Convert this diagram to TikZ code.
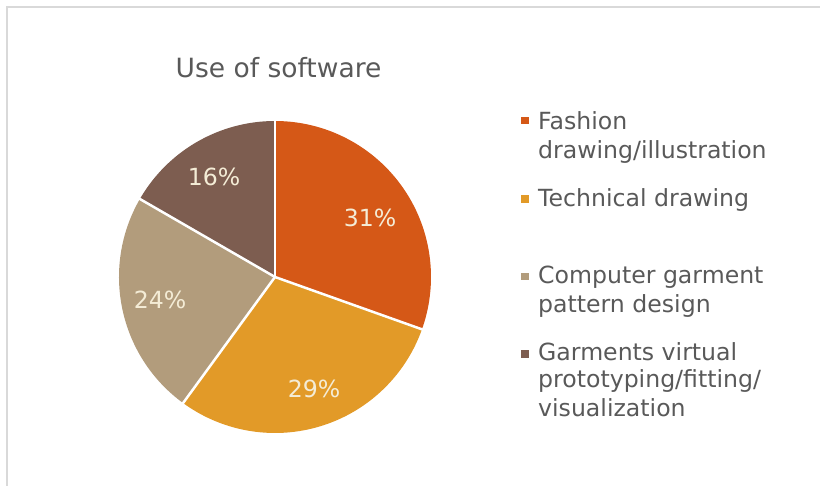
\documentclass[tikz,border=0pt]{standalone}
\usepackage{fontspec}
\setmainfont{DejaVu Sans}
\usetikzlibrary{calc}
\definecolor{cA}{HTML}{D55817}
\definecolor{cB}{HTML}{E29A28}
\definecolor{cC}{HTML}{B29C7C}
\definecolor{cD}{HTML}{7D5D50}
\definecolor{txtgray}{HTML}{595959}
\definecolor{lblc}{HTML}{F4ECD6}
\definecolor{framec}{HTML}{D9D9D9}
\begin{document}
\begin{tikzpicture}[x=1pt,y=1pt,
  slice/.style={line width=2.5pt, draw=white, line join=round},
  pct/.style={anchor=base, text=lblc, inner sep=0pt, font=\fontsize{23.6}{28}\selectfont},
  legtext/.style={anchor=base west, text=txtgray, inner sep=0pt, font=\fontsize{23.6}{28}\selectfont},
  legsq/.style={minimum size=7.5pt, inner sep=0pt}]
\useasboundingbox (0,0) rectangle (820,486);
\draw[framec, line width=2pt] (7,0) -- (7,479) -- (820,479);
\coordinate (c) at (275,209);
\fill[cA] (c) -- ++(90:156pt) arc[start angle=90, end angle=-19.6, radius=156pt] -- cycle;
\fill[cB] (c) -- ++(-19.6:156pt) arc[start angle=-19.6, end angle=-126.1, radius=156pt] -- cycle;
\fill[cC] (c) -- ++(-126.1:156pt) arc[start angle=-126.1, end angle=-210, radius=156pt] -- cycle;
\fill[cD] (c) -- ++(150:156pt) arc[start angle=150, end angle=90, radius=156pt] -- cycle;
\foreach \a/\n in {90/e1,-19.6/e2,-126.1/e3,150/e4} {
  \coordinate (\n) at ($(c)+(\a:158pt)$);
  \draw[slice] (c) -- (\n);
}
\node[pct] (p1) at (370,259) {31\%};
\node[pct] (p2) at (314,88) {29\%};
\node[pct] (p3) at (160,177) {24\%};
\node[pct] (p4) at (214,300) {16\%};
\node[anchor=base, text=txtgray, inner sep=0pt, font=\fontsize{26.5}{30}\selectfont] (title) at (278.5,408) {Use of software};
\node[legsq, fill=cA] (s1) at (525,365.5) {};
\node[legsq, fill=cB] (s2) at (525,287) {};
\node[legsq, fill=cC] (s3) at (525,209.3) {};
\node[legsq, fill=cD] (s4) at (525,132) {};
\node[legtext] (l1a) at (538,356) {Fashion};
\node[legtext] (l1b) at (538,327.7) {drawing/illustration};
\node[legtext] (l2a) at (538,279) {Technical drawing};
\node[legtext] (l3a) at (538,202) {Computer garment};
\node[legtext] (l3b) at (538,173.3) {pattern design};
\node[legtext] (l4a) at (538,125.3) {Garments virtual};
\node[legtext] (l4b) at (538,98) {prototyping/fitting/};
\node[legtext] (l4c) at (538,69) {visualization};
\end{tikzpicture}
\end{document}
